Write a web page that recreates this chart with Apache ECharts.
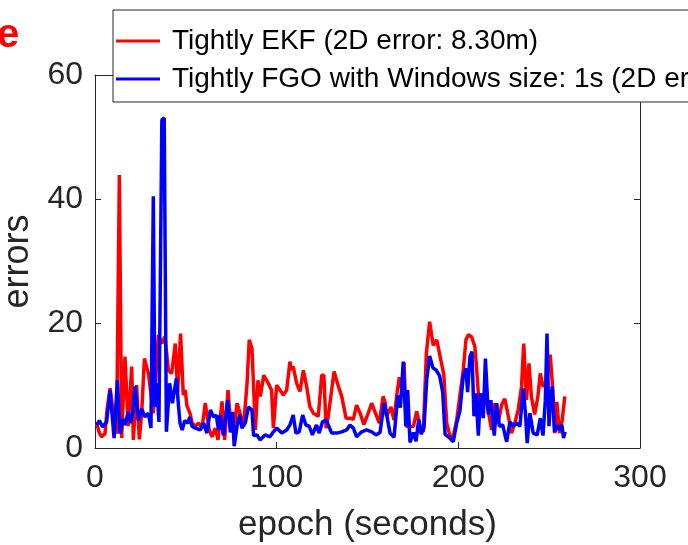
<!DOCTYPE html>
<html>
<head>
<meta charset="utf-8">
<script src="https://cdn.jsdelivr.net/npm/echarts@6/dist/echarts.min.js"></script>
<style>html,body{margin:0;padding:0;background:#fff}#c{width:688px;height:545px}</style>
</head>
<body>
<div id="c"></div>
<script>
var xTicks = [0, 100, 200, 300];
var yTicks = [0, 20, 40, 60];
var seriesNames = ['Tightly EKF (2D error: 8.30m)', 'Tightly FGO with Windows size: 1s (2D error: 5.25m)'];

var ekfEpoch = [0.9,2.4,3.7,5.5,6.6,8.3,10.1,11.9,13.4,14.7,16.5,18.3,20.2,21.1,22.9,24.4,25.7,27.2,29.4,31.2,32.1,34.9,36.7,38.5,40.4,42.2,44.2,45.5,47.1,48.6,49.7,50.6,51.6,52.5,53.4,55.2,57.1,58.9,60.7,61.6,62.9,64.4,66.2,67.7,69.9,71.4,73.2,74.5,76.3,78.2,80.0,81.8,83.7,84.9,86.4,88.3,89.7,91.0,92.9,95.4,97.2,98.2,100.0,101.9,103.7,105.5,107.3,108.2,109.1,111.0,112.8,114.7,116.5,118.3,120.2,122.9,124.8,126.0,127.2,128.4,131.6,134.0,135.8,138.2,140.4,142.2,144.0,145.9,148.0,150.4,152.3,154.1,156.5,158.6,159.8,160.5,162.9,164.6,166.0,167.5,168.8,170.1,171.4,173.4,175.3,177.1,178.9,180.7,182.4,184.2,186.2,188.1,190.0,192.0,193.6,195.4,197.2,199.1,200.9,202.7,204.2,205.5,207.3,209.1,210.0,211.0,212.8,214.6,216.5,218.3,220.1,221.9,223.8,225.6,227.4,229.3,231.1,232.9,234.8,236.0,237.5,238.9,240.2,242.0,243.8,245.1,246.6,248.4,250.6,252.0,253.0,254.2,255.7,257.2,258.6];
var ekfError = [4.0,2.4,1.8,2.3,6.1,9.6,5.6,2.3,43.9,1.6,14.7,3.5,13.1,1.3,10.1,1.4,5.6,14.4,12.0,7.7,5.6,18.2,16.8,17.9,12.5,12.0,16.8,9.0,18.4,8.5,9.3,6.8,7.0,5.4,4.0,3.5,4.0,3.2,7.2,7.2,2.9,1.8,3.2,1.3,7.5,1.3,9.3,4.5,2.5,7.2,5.4,3.5,10.4,17.4,16.0,2.9,10.9,8.3,11.7,10.4,9.3,3.2,10.1,9.3,8.5,9.3,13.9,12.5,13.1,10.4,9.1,12.5,9.9,6.6,5.6,5.1,11.7,11.7,3.2,5.1,12.3,9.9,8.3,4.8,4.8,4.6,6.9,5.6,3.8,5.6,7.2,5.8,4.0,8.3,7.2,5.1,6.6,4.5,8.3,11.4,9.6,13.8,3.5,3.4,3.5,5.9,3.5,2.6,15.2,20.3,16.5,17.4,14.7,11.8,4.0,1.9,1.9,4.5,8.5,12.5,17.4,18.2,17.9,16.3,13.1,8.8,6.1,8.3,5.9,2.9,7.2,4.0,6.9,7.9,5.3,2.4,4.0,6.1,9.9,16.8,7.7,13.6,8.3,5.4,8.3,12.0,9.9,10.4,15.0,9.3,2.4,7.4,2.4,4.5,8.3];

var fgoEpoch = [0.9,2.4,4.2,6.4,8.3,10.5,12.3,13.8,15.3,16.5,18.3,19.6,20.7,22.0,23.9,25.7,27.5,29.4,30.8,32.1,33.0,33.9,35.2,36.8,38.1,39.3,41.1,42.6,44.8,45.9,46.8,48.0,49.4,51.2,52.1,53.4,55.2,58.0,59.8,61.6,63.5,65.3,66.7,68.0,68.9,70.7,73.0,74.5,75.7,76.6,78.2,79.6,80.9,82.7,84.5,86.4,87.3,89.2,90.8,93.6,96.3,98.2,100.0,102.8,105.5,107.3,109.1,110.6,112.4,114.3,116.1,117.9,119.7,121.9,123.4,125.2,127.2,128.4,130.3,133.0,135.8,138.5,140.4,142.2,144.0,146.8,149.5,152.3,154.7,156.9,159.1,160.5,162.4,164.6,166.7,168.1,169.7,171.1,172.1,173.4,175.3,176.7,178.2,179.5,181.1,182.6,184.2,186.0,187.9,189.7,191.4,192.7,195.4,197.2,199.1,200.9,202.7,204.2,205.1,206.4,207.5,208.6,209.7,211.0,212.2,213.7,214.9,216.5,217.9,219.8,221.1,222.6,224.4,226.6,228.4,230.2,232.0,233.9,235.7,237.0,237.9,239.4,241.2,243.4,245.1,246.6,247.9,248.8,249.9,250.8,251.7,253.0,254.4,255.7,257.0,257.9,258.8];
var fgoError = [3.7,4.4,3.4,4.2,9.3,1.6,10.9,2.3,4.7,3.7,5.8,4.0,5.6,9.9,4.4,6.3,5.0,5.6,3.2,40.5,6.6,10.4,4.2,52.8,53.1,2.6,10.4,7.2,11.2,7.0,4.0,2.9,4.4,4.0,5.0,3.5,3.2,2.9,4.0,2.4,6.1,5.0,5.3,2.9,5.3,2.0,7.7,2.5,5.8,0.3,3.5,5.4,3.2,4.0,6.6,6.1,2.0,2.1,1.3,2.1,1.8,2.6,3.2,2.4,2.9,3.7,5.3,2.4,2.6,5.3,3.7,3.5,2.1,3.7,2.4,4.2,4.5,3.7,2.4,2.4,2.6,2.9,3.7,3.2,1.8,2.6,2.9,2.6,2.1,2.5,7.2,5.4,2.4,1.7,8.5,6.5,13.9,3.5,9.3,0.9,2.5,1.1,4.6,2.2,3.3,11.0,14.8,12.9,12.5,11.6,9.0,2.2,1.6,1.0,4.0,6.0,11.5,12.8,9.0,14.7,15.5,5.1,8.8,2.0,8.8,4.8,14.4,5.4,7.7,2.0,7.2,3.5,3.7,1.0,4.2,3.5,4.0,3.5,9.6,5.4,0.8,5.6,2.4,2.1,4.8,2.0,7.7,18.4,3.5,7.7,9.9,2.6,3.7,2.9,3.7,1.6,2.6];

function pairs(xs, ys) { return xs.map(function (x, i) { return [x, ys[i]]; }); }

var FONT = 'Liberation Sans, Arial, sans-serif';
var TXT = '#262626';
var chart = echarts.init(document.getElementById('c'), null, {renderer: 'canvas'});
function axisBase() {
  return {
    type: 'value',
    axisLine: {show: true, onZero: false, lineStyle: {color: TXT, width: 1}},
    axisTick: {show: true, inside: true, length: 6, lineStyle: {color: TXT}},
    splitLine: {show: false}
  };
}
chart.setOption({
  animation: false,
  backgroundColor: '#fff',
  grid: {left: 95, right: 48, top: 75, bottom: 97, show: false, containLabel: false, outerBoundsMode: 'none'},
  xAxis: [
    Object.assign(axisBase(), {
      min: xTicks[0], max: xTicks[xTicks.length - 1], interval: 100, position: 'bottom',
      axisLabel: {fontSize: 32, color: TXT, fontFamily: FONT, margin: 14},
      name: 'epoch (seconds)', nameLocation: 'middle', nameGap: 60,
      nameTextStyle: {fontSize: 35, color: TXT, fontFamily: FONT}
    }),
    Object.assign(axisBase(), {
      min: xTicks[0], max: xTicks[xTicks.length - 1], interval: 100, position: 'top',
      axisLabel: {show: false}
    })
  ],
  yAxis: [
    Object.assign(axisBase(), {
      min: yTicks[0], max: yTicks[yTicks.length - 1], interval: 20, position: 'left',
      axisLabel: {fontSize: 32, color: TXT, fontFamily: FONT, margin: 12},
      name: 'errors', nameLocation: 'middle', nameGap: 44, nameRotate: 90,
      nameTextStyle: {fontSize: 36, color: TXT, fontFamily: FONT}
    }),
    Object.assign(axisBase(), {
      min: yTicks[0], max: yTicks[yTicks.length - 1], interval: 20, position: 'right',
      axisLabel: {show: false}
    })
  ],
  legend: {
    orient: 'vertical', left: 113, top: 10,
    padding: [14, 10, 6, 3], itemGap: 4,
    itemWidth: 44, itemHeight: 3, icon: 'rect',
    backgroundColor: '#fff', borderColor: '#262626', borderWidth: 1,
    textStyle: {fontSize: 28, color: '#000', fontFamily: FONT, lineHeight: 34, padding: [0, 0, 0, 7]},
    data: seriesNames
  },
  graphic: [{
    type: 'text', left: -3, top: 16,
    style: {text: 'e', fill: '#ff0000', font: 'bold 40px ' + FONT}
  }],
  series: [
    {name: seriesNames[0], type: 'line', xAxisIndex: 0, yAxisIndex: 0, showSymbol: false, symbol: 'none',
     lineStyle: {color: '#ff0000', width: 3.5}, itemStyle: {color: '#ff0000'}, data: pairs(ekfEpoch, ekfError)},
    {name: seriesNames[1], type: 'line', xAxisIndex: 0, yAxisIndex: 0, showSymbol: false, symbol: 'none',
     lineStyle: {color: '#0000ff', width: 3.5}, itemStyle: {color: '#0000ff'}, data: pairs(fgoEpoch, fgoError)}
  ]
});
</script>
</body>
</html>
